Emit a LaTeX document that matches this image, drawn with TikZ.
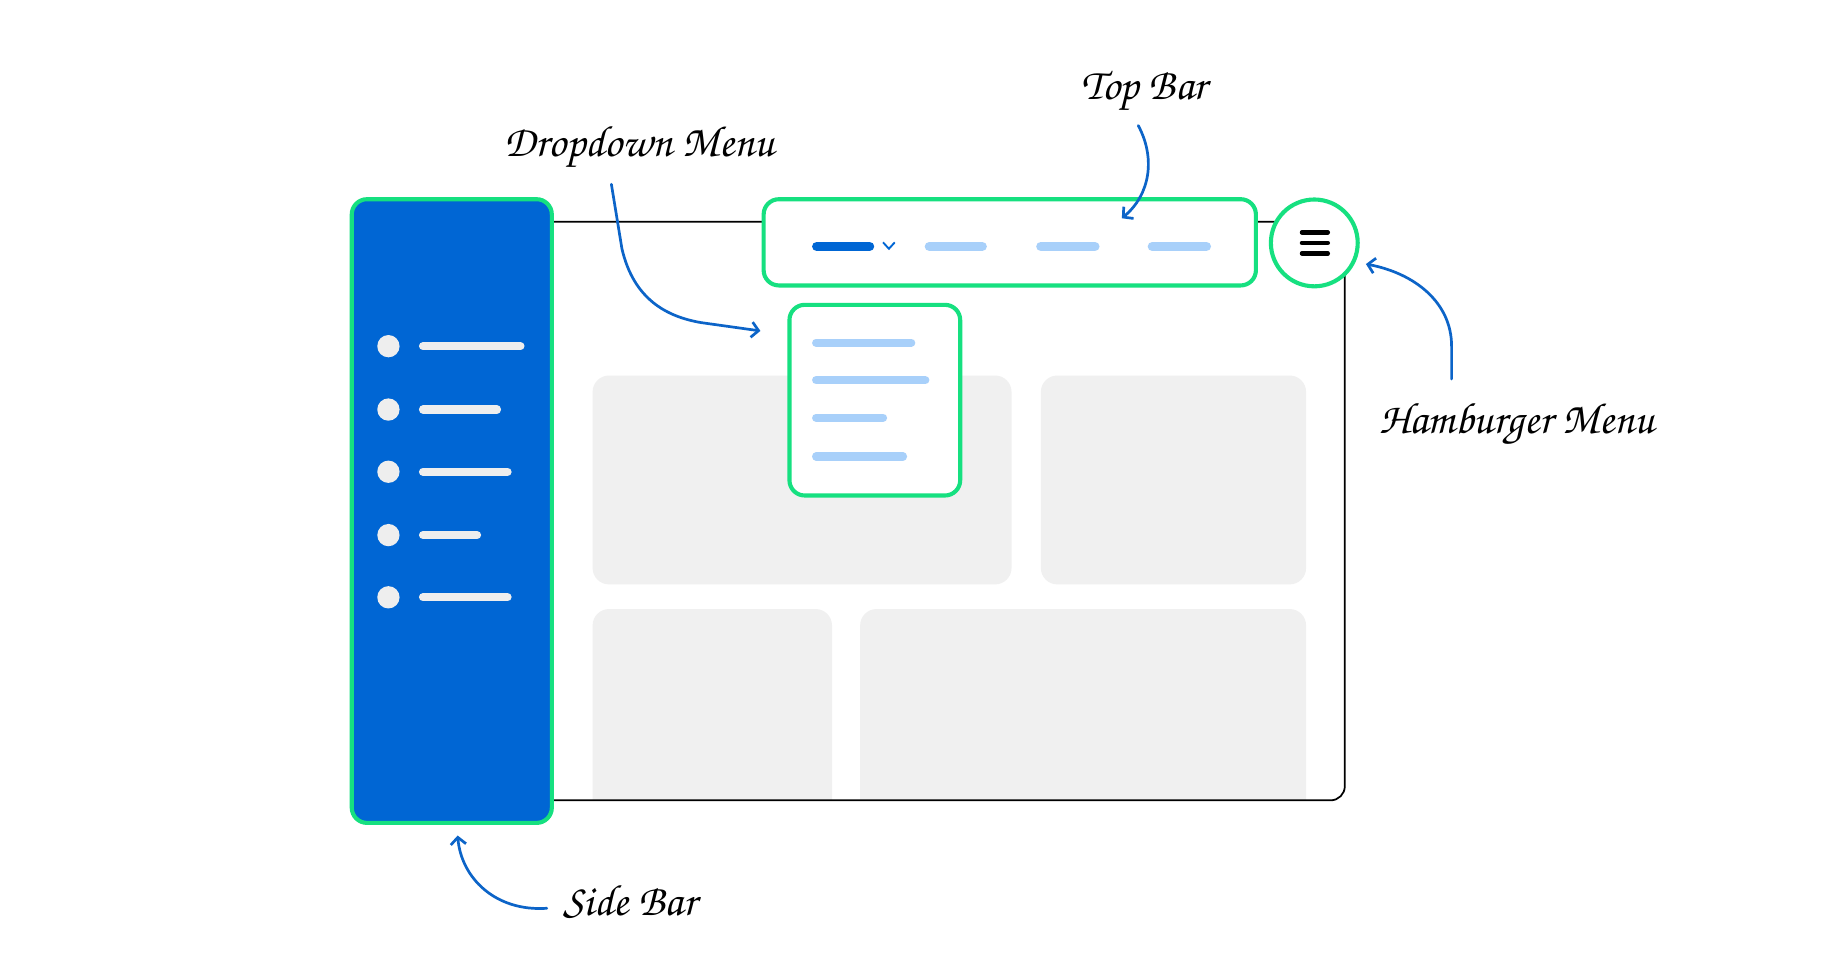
\documentclass[tikz,border=0pt]{standalone}
\usepackage[T1]{fontenc}
\usetikzlibrary{arrows.meta}
\definecolor{sideblue}{RGB}{0,102,212}
\definecolor{frgreen}{RGB}{22,224,128}
\definecolor{arrowblue}{RGB}{12,100,200}
\definecolor{lightbar}{RGB}{168,208,250}
\definecolor{cardgray}{RGB}{240,240,240}
\definecolor{itemgray}{RGB}{238,238,238}
\newcommand{\handfont}{\fontencoding{T1}\fontfamily{pzc}\fontseries{mb}\fontshape{it}\fontsize{37.5}{42}\selectfont}
\begin{document}
\begin{tikzpicture}[x=1pt,y=-1pt,
  greenbox/.style={draw=frgreen, line width=3.5pt, rounded corners=13pt, fill=white, inner sep=0pt},
  card/.style={fill=cardgray, rounded corners=14pt},
  itemline/.style={itemgray, line width=7pt, line cap=round},
  ddline/.style={lightbar, line width=7pt, line cap=round},
  topline/.style={line width=8pt, line cap=round},
  note/.style={font=\handfont, inner sep=0pt, text=black},
  pointer/.style={draw=arrowblue, line width=2.3pt, line cap=round,
    -{Straight Barb[length=6pt,width=13pt,line width=2.3pt]}},
]
\useasboundingbox[fill=white] (0,0) rectangle (1568,833);

% content cards
\begin{scope}
  \clip (0,0) rectangle (1568,682);
  \fill[card] (505,320) rectangle (862,498);
  \fill[card] (887,320) rectangle (1113,498);
  \fill[card] (505,519) rectangle (709,700);
  \fill[card] (733,519) rectangle (1113,700);
\end{scope}

% browser frame
\draw[line width=1.5pt, rounded corners=12pt] (472,189) -- (1146,189) -- (1146,682) -- (472,682);

% side bar
\node[greenbox, fill=sideblue, minimum width=170.5pt, minimum height=531.5pt] (sidebar) at (385,435.5) {};
\foreach \yy/\xe in {295/447, 349/427, 402/436, 456/410, 509/436} {
  \fill[itemgray] (331,\yy) circle (9.5pt);
  \draw[itemline] (360.5,\yy) -- (\xe-3.5,\yy);
}

% top bar
\node[greenbox, minimum width=419.5pt, minimum height=73.5pt] (topbar) at (860.5,206.5) {};
\draw[topline, sideblue] (696,210) -- (741,210);
\draw[sideblue, line width=1.6pt] (752.5,206.5) -- (757.5,212) -- (762.5,206.5);
\draw[topline, lightbar] (792,210) -- (837,210);
\draw[topline, lightbar] (887,210) -- (933,210);
\draw[topline, lightbar] (982,210) -- (1028,210);

% dropdown
\node[greenbox, minimum width=145.5pt, minimum height=162.5pt] (dropdown) at (745.5,341) {};
\draw[ddline] (695.5,292) -- (776.5,292);
\draw[ddline] (695.5,324) -- (788.5,324);
\draw[ddline] (695.5,356) -- (752.5,356);
\draw[ddline] (695.5,389) -- (769.5,389);

% hamburger
\node[draw=frgreen, line width=3.5pt, circle, fill=white, minimum size=74pt, inner sep=0pt] (burger) at (1120,207) {};
\foreach \yy in {198,207,216} {
  \draw[line width=3.8pt, line cap=round] (1109.5,\yy) -- (1131.5,\yy);
}

% labels
\node[note] (lbltop) at (975,78) {Top Bar};
\node[note] (lbldrop) at (545,126) {Dropdown Menu};
\node[note] (lblburger) at (1293,362) {Hamburger Menu};
\node[note] (lblside) at (537,768) {Side Bar};

% pointers
\coordinate (tbS) at (970,107);
\coordinate (tbE) at (956,186);
\draw[pointer] (tbS) .. controls (985,135) and (980,166) .. (tbE);

\coordinate (ddS) at (521,157);
\coordinate (ddM) at (530,212);
\coordinate (ddE) at (648,282);
\draw[pointer] (ddS) -- (ddM) .. controls (540,255) and (568,270) .. (598,275) -- (ddE);

\coordinate (hbS) at (1237,323);
\coordinate (hbE) at (1164,225);
\draw[pointer] (hbS) -- (1237,295) .. controls (1237,258) and (1206,233) .. (hbE);

\coordinate (sbS) at (466,774);
\coordinate (sbE) at (390,712);
\draw[pointer] (sbS) .. controls (422,777) and (393,748) .. (sbE);
\end{tikzpicture}
\end{document}
